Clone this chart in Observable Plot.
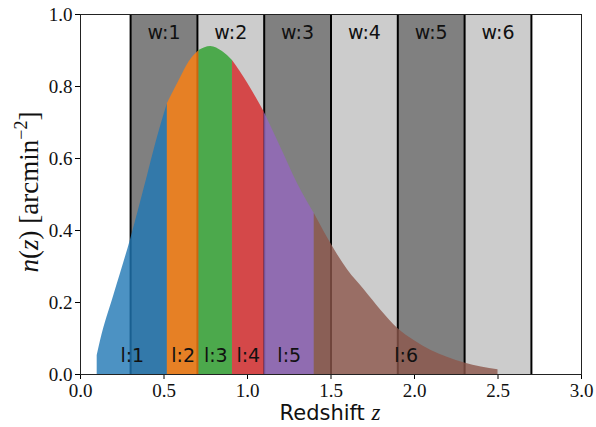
<!DOCTYPE html>
<html><head><meta charset="utf-8">
<script src="https://cdn.jsdelivr.net/npm/d3@7"></script>
<script src="https://cdn.jsdelivr.net/npm/@observablehq/plot@0.6"></script>
<style>body{margin:0;background:#fff}</style>
</head><body><div id="chart"></div>
<script>
const zValues = [0.1,0.12,0.2,0.3,0.4,0.45,0.52,0.6,0.65,0.71,0.78,0.85,0.91,1.0,1.1,1.2,1.3,1.4,1.5,1.6,1.7,1.8,1.9,2.0,2.1,2.2,2.3,2.4,2.5];
const nValues = [0.053,0.094,0.22,0.375,0.55,0.64,0.752,0.825,0.868,0.9,0.911,0.897,0.872,0.81,0.729,0.63,0.53,0.447,0.363,0.29,0.235,0.178,0.128,0.094,0.067,0.047,0.032,0.021,0.013];
const binEdges = [0.1,0.52,0.71,0.91,1.1,1.4,2.5];
const binLabels = ["l:1","l:2","l:3","l:4","l:5","l:6"];
const binColors = ["#1f77b4","#ff7f0e","#2ca02c","#d62728","#9467bd","#8c564b"];
const windowEdges = [0.3,0.7,1.1,1.5,1.9,2.3,2.7];
const windowLabels = ["w:1","w:2","w:3","w:4","w:5","w:6"];
const windowShades = ["#808080","#cccccc","#808080","#cccccc","#808080","#cccccc"];
const xTicks = [0,0.5,1,1.5,2,2.5,3];
const yTicks = [0,0.2,0.4,0.6,0.8,1.0];

const windows = windowLabels.map((w,i)=>({label:w, x1:windowEdges[i], x2:windowEdges[i+1], shade:windowShades[i]}));
const rows = [];
binLabels.forEach((b,i)=>{
  const lo = binEdges[i], hi = binEdges[i+1];
  zValues.forEach((z,k)=>{ if (z >= lo - 1e-9 && z <= hi + 1e-9) rows.push({z, n:nValues[k], bin:b}); });
});
const binMid = binLabels.map((b,i)=>({label:b, x:(binEdges[i]+binEdges[i+1])/2}));

const sans = "DejaVu Sans, sans-serif";
const serif = "'Liberation Serif', 'DejaVu Serif', serif";

const chart = Plot.plot({
  width:596, height:427,
  marginLeft:80, marginRight:15, marginTop:14, marginBottom:53,
  x:{domain:[0,3]}, y:{domain:[0,1]},
  color:{domain:binLabels, range:binColors},
  style:{background:"#fff"},
  marks:[
    Plot.rect(windows,{x1:"x1", x2:"x2", y1:0, y2:1, fill:"shade"}),
    Plot.ruleX(windowEdges,{stroke:"black", strokeWidth:2}),
    Plot.area(rows,{x1:"z", y1:0, y2:"n", z:"bin", fill:"bin", fillOpacity:0.8, curve:"monotone-x"}),
    Plot.text(windows,{x:d=>(d.x1+d.x2)/2, y:0.95, text:"label", fontFamily:sans, fontSize:19, fill:"#111"}),
    Plot.text(binMid,{x:"x", y:0.053, text:"label", fontFamily:sans, fontSize:19, fill:"#111"}),
    Plot.axisX(xTicks,{tickSize:5, tickPadding:4, tickFormat:d=>d.toFixed(1), fontSize:19, label:null, fill:"#111"}),
    Plot.axisY(yTicks,{tickSize:5, tickPadding:3, tickFormat:d=>d.toFixed(1), fontSize:19, label:null, fill:"#111"}),
    Plot.frame({stroke:"#222", strokeWidth:1})
  ]
});
document.getElementById("chart").appendChild(chart);

const svg = d3.select(chart);
svg.selectAll("g").filter(function(){ return (this.getAttribute("aria-label")||"").includes("tick label"); })
  .style("font-family", serif).selectAll("text").style("font-family", serif);
const xl = svg.append("text").attr("x", 330).attr("y", 420).attr("text-anchor","middle").attr("fill","#111");
xl.append("tspan").style("font-family", sans).attr("font-size", 21).text("Redshift ");
xl.append("tspan").style("font-family", serif).attr("font-style","italic").attr("font-size", 23).text("z");

const yl = svg.append("text").attr("transform","translate(38,192) rotate(-90)").attr("text-anchor","middle").attr("fill","#111").style("font-family", serif).attr("font-size", 27);
yl.append("tspan").attr("font-style","italic").text("n");
yl.append("tspan").text("(");
yl.append("tspan").attr("font-style","italic").text("z");
yl.append("tspan").text(") [arcmin");
yl.append("tspan").attr("font-size",18).attr("dy",-11).text("−2");
yl.append("tspan").attr("dy",11).text("]");
</script></body></html>
